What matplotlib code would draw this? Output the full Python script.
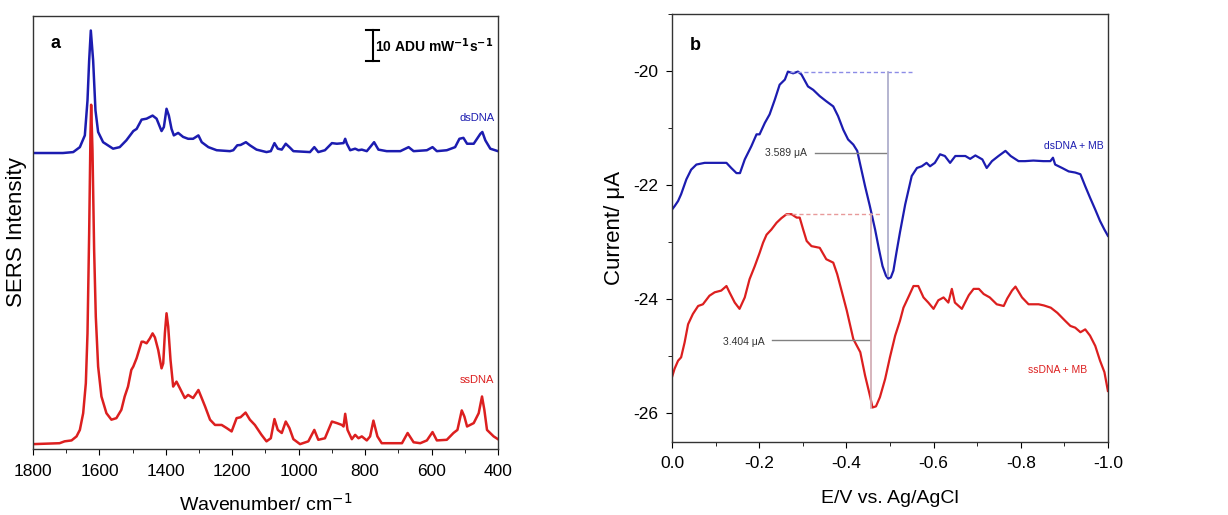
import matplotlib
matplotlib.use("Agg")
import matplotlib.pyplot as plt
from matplotlib.ticker import MultipleLocator

plt.rcParams["font.family"] = ["Liberation Sans", "DejaVu Sans"]

# ---- panel a: SERS spectra (wavenumber in cm-1, intensity in ADU mW-1 s-1, offset) ----
ds_wn = [1800, 1710, 1679, 1659, 1644, 1636, 1631, 1626, 1619, 1612, 1604, 1589, 1559,
         1539, 1519, 1498, 1488, 1473, 1458, 1440, 1428, 1413, 1406, 1398, 1391, 1383,
         1376, 1363, 1348, 1333, 1318, 1302, 1292, 1272, 1247, 1207, 1197, 1185, 1175,
         1159, 1147, 1127, 1097, 1084, 1073, 1063, 1051, 1039, 1026, 1016, 966, 953, 941,
         921, 900, 885, 865, 860, 855, 845, 830, 820, 810, 795, 785, 773, 760, 735, 694,
         669, 654, 614, 597, 584, 554, 529, 516, 504, 493, 473, 453, 447, 438, 423, 400]
ds_int = [95.7, 95.7, 96.0, 97.6, 101.4, 112.7, 125.6, 135.3, 125.6, 109.5, 102.5, 99.2,
          97.1, 97.6, 99.8, 102.8, 103.5, 106.5, 106.8, 107.8, 106.8, 102.8, 104.1, 110.0,
          107.8, 103.5, 101.4, 102.2, 100.9, 100.3, 100.3, 101.4, 99.2, 97.6, 96.6, 96.3,
          96.6, 98.2, 98.3, 99.2, 98.2, 96.8, 96.0, 96.3, 98.9, 97.1, 96.8, 98.7, 97.4,
          96.3, 96.0, 97.6, 96.0, 96.6, 98.9, 98.7, 98.9, 100.3, 98.7, 96.6, 97.1, 96.6,
          96.8, 96.3, 97.6, 99.2, 96.8, 96.3, 96.3, 97.6, 96.3, 96.6, 97.6, 96.3, 96.6,
          97.6, 100.3, 100.6, 98.7, 98.7, 101.9, 102.5, 99.8, 97.1, 96.3]

ss_wn = [1800, 1720, 1705, 1684, 1669, 1659, 1649, 1641, 1636, 1631, 1627, 1625, 1621,
         1616, 1611, 1604, 1594, 1579, 1564, 1549, 1534, 1524, 1514, 1504, 1498, 1488,
         1473, 1468, 1458, 1448, 1440, 1433, 1423, 1413, 1408, 1403, 1398, 1393, 1386,
         1378, 1368, 1358, 1343, 1333, 1318, 1302, 1294, 1282, 1267, 1252, 1232, 1217,
         1202, 1187, 1175, 1160, 1147, 1132, 1112, 1097, 1084, 1073, 1063, 1051, 1039,
         1028, 1016, 996, 971, 953, 941, 921, 900, 885, 870, 865, 860, 853, 840, 830, 820,
         810, 795, 785, 775, 763, 750, 715, 689, 672, 654, 634, 614, 597, 584, 554, 534,
         522, 509, 501, 493, 473, 458, 448, 441, 433, 413, 400]
ss_int = [1.6, 1.9, 2.5, 2.8, 4.1, 6.2, 11.6, 21.3, 37.4, 69.7,
          101.9, 111.3, 96.6, 64.3, 42.8, 26.7, 17.0, 11.6, 9.5, 10.0,
          12.7, 17.0, 20.2, 25.6, 26.7, 29.4, 34.7, 34.7, 34.2, 35.8,
          37.4, 36.1, 32.0, 26.1, 27.7, 37.4, 43.9, 39.6, 28.8, 20.2,
          21.8, 19.7, 16.5, 17.5, 16.5, 19.1, 17.0, 13.8, 9.5, 7.8,
          7.8, 6.8, 5.7, 10.0, 10.3, 11.8, 9.5, 7.8, 4.6, 2.5,
          3.5, 9.7, 6.2, 5.2, 8.9, 6.8, 3.2, 1.6, 2.5, 6.2,
          3.0, 3.5, 8.9, 8.4, 7.8, 7.3, 11.4, 6.2, 3.2, 4.6,
          3.5, 4.1, 2.8, 4.1, 9.2, 4.1, 1.9, 1.9, 1.9, 5.2,
          2.2, 1.9, 2.8, 5.5, 2.8, 3.0, 5.2, 6.2, 12.5, 10.5,
          7.3, 8.4, 11.6, 17.0, 12.7, 6.2, 4.1, 3.2]

# ---- panel b: DPV curves (E in V vs Ag/AgCl, current in uA) ----
ds_e = [0.0, -0.006, -0.014, -0.021, -0.033, -0.044, -0.056, -0.075, -0.094, -0.125,
        -0.136, -0.148, -0.156, -0.167, -0.182, -0.194, -0.201, -0.213, -0.224, -0.236,
        -0.247, -0.259, -0.266, -0.278, -0.289, -0.297, -0.312, -0.324, -0.339, -0.354,
        -0.370, -0.381, -0.393, -0.404, -0.416, -0.425, -0.431, -0.443, -0.454, -0.466,
        -0.475, -0.483, -0.491, -0.496, -0.502, -0.508, -0.515, -0.523, -0.535, -0.550,
        -0.562, -0.573, -0.584, -0.592, -0.603, -0.615, -0.626, -0.638, -0.650, -0.661,
        -0.673, -0.684, -0.696, -0.712, -0.722, -0.734, -0.749, -0.765, -0.777, -0.795,
        -0.810, -0.829, -0.852, -0.868, -0.874, -0.879, -0.895, -0.910, -0.925, -0.937,
        -0.948, -0.959, -0.971, -0.982, -0.992, -1.0]
ds_cur = [-22.43, -22.37, -22.28, -22.16, -21.90, -21.73, -21.64, -21.61, -21.61, -21.61,
          -21.70, -21.79, -21.79, -21.55, -21.32, -21.11, -21.11, -20.91, -20.76, -20.50,
          -20.24, -20.15, -20.01, -20.04, -20.01, -20.06, -20.27, -20.33, -20.44, -20.53,
          -20.62, -20.79, -21.03, -21.20, -21.29, -21.40, -21.61, -22.02, -22.37, -22.78,
          -23.13, -23.42, -23.59, -23.64, -23.62, -23.50, -23.18, -22.83, -22.34, -21.84,
          -21.70, -21.67, -21.61, -21.67, -21.61, -21.46, -21.49, -21.61, -21.49, -21.49,
          -21.49, -21.54, -21.48, -21.55, -21.70, -21.58, -21.49, -21.40, -21.49, -21.58,
          -21.58, -21.57, -21.58, -21.58, -21.52, -21.64, -21.70, -21.76, -21.78, -21.81,
          -22.02, -22.22, -22.43, -22.63, -22.78, -22.89]

ss_e = [0.0, -0.006, -0.014, -0.021, -0.029, -0.037, -0.048, -0.060, -0.071, -0.086,
        -0.098, -0.113, -0.125, -0.132, -0.144, -0.155, -0.167, -0.178, -0.190, -0.201,
        -0.209, -0.217, -0.228, -0.240, -0.251, -0.263, -0.274, -0.286, -0.293, -0.301,
        -0.309, -0.320, -0.339, -0.354, -0.370, -0.379, -0.389, -0.401, -0.416, -0.432,
        -0.443, -0.455, -0.460, -0.468, -0.477, -0.489, -0.500, -0.512, -0.523, -0.531,
        -0.542, -0.554, -0.565, -0.577, -0.588, -0.600, -0.611, -0.623, -0.634, -0.642,
        -0.649, -0.665, -0.681, -0.692, -0.704, -0.715, -0.729, -0.745, -0.761, -0.769,
        -0.780, -0.788, -0.803, -0.818, -0.829, -0.841, -0.853, -0.869, -0.884, -0.902,
        -0.914, -0.925, -0.937, -0.948, -0.959, -0.971, -0.982, -0.992, -1.0]
ss_cur = [-25.37, -25.22, -25.08, -25.02, -24.76, -24.44, -24.26, -24.12, -24.09, -23.94,
          -23.88, -23.85, -23.77, -23.88, -24.06, -24.17, -23.97, -23.65, -23.42, -23.19,
          -23.01, -22.87, -22.78, -22.66, -22.58, -22.51, -22.51, -22.57, -22.57, -22.78,
          -22.98, -23.07, -23.10, -23.30, -23.36, -23.56, -23.85, -24.20, -24.70, -24.93,
          -25.34, -25.72, -25.90, -25.88, -25.72, -25.40, -25.02, -24.64, -24.38, -24.15,
          -23.97, -23.77, -23.77, -23.97, -24.06, -24.17, -24.02, -23.97, -24.06, -23.82,
          -24.06, -24.17, -23.93, -23.82, -23.82, -23.91, -23.97, -24.09, -24.12, -23.99,
          -23.85, -23.78, -23.97, -24.09, -24.09, -24.09, -24.11, -24.15, -24.24, -24.38,
          -24.47, -24.50, -24.58, -24.53, -24.64, -24.82, -25.08, -25.28, -25.61]

ds_gap = 3.589
ss_gap = 3.404

BLUE = "#1c1cb0"
RED = "#dc1f1f"

fig = plt.figure(figsize=(12.28, 5.15), dpi=100)

# ---------------- panel a ----------------
ax1 = fig.add_axes([0.0269, 0.128, 0.3786, 0.841])
ax1.plot(ds_wn, ds_int, color=BLUE, lw=1.8)
ax1.plot(ss_wn, ss_int, color=RED, lw=1.8)
ax1.set_xlim(1800, 400)
ax1.set_ylim(0, 140)
ax1.set_yticks([])
ax1.xaxis.set_major_locator(MultipleLocator(200))
ax1.xaxis.set_minor_locator(MultipleLocator(100))
ax1.tick_params(axis="x", which="major", direction="out", length=4, labelsize=12.5, pad=7)
ax1.tick_params(axis="x", which="minor", direction="out", length=3)
ax1.set_xlabel("Wavenumber/ cm$^{-1}$", fontsize=14, labelpad=10)
ax1.set_ylabel("SERS Intensity", fontsize=16, labelpad=4)
ax1.text(0.038, 0.937, "a", transform=ax1.transAxes, fontsize=13, fontweight="bold",
         ha="left", va="center")
ax1.text(410, 107.1, "dsDNA", color=BLUE, fontsize=8, ha="right", va="center")
ax1.text(413, 22.4, "ssDNA", color=RED, fontsize=8, ha="right", va="center")

# scale bar: 10 ADU mW-1 s-1
bar_x = 777
bar_lo, bar_hi = 125.5, 135.5
ax1.plot([bar_x, bar_x], [bar_lo, bar_hi], color="black", lw=1.5)
ax1.plot([bar_x + 20, bar_x - 20], [bar_lo, bar_lo], color="black", lw=1.5)
ax1.plot([bar_x + 20, bar_x - 20], [bar_hi, bar_hi], color="black", lw=1.5)
ax1.text(bar_x - 8, (bar_lo + bar_hi) / 2, "10 ADU mW$^{\\mathbf{-1}}$s$^{\\mathbf{-1}}$",
         fontsize=10, fontweight="bold", ha="left", va="center")

# ---------------- panel b ----------------
ax2 = fig.add_axes([0.5472, 0.1423, 0.355, 0.8305])
ax2.plot(ds_e, ds_cur, color=BLUE, lw=1.6)
ax2.plot(ss_e, ss_cur, color=RED, lw=1.6)
ax2.set_xlim(0.0, -1.0)
ax2.set_ylim(-26.5, -19.0)
ax2.xaxis.set_major_locator(MultipleLocator(0.2))
ax2.xaxis.set_minor_locator(MultipleLocator(0.1))
ax2.yaxis.set_major_locator(MultipleLocator(2))
ax2.yaxis.set_minor_locator(MultipleLocator(1))
ax2.xaxis.set_major_formatter(plt.FuncFormatter(lambda v, p: f"{v:.1f}"))
ax2.yaxis.set_major_formatter(plt.FuncFormatter(lambda v, p: f"{v:.0f}"))
ax2.tick_params(which="major", direction="out", length=4, labelsize=12.5, pad=6)
ax2.tick_params(which="minor", direction="out", length=3)
ax2.set_xlabel("E/V vs. Ag/AgCl", fontsize=14, labelpad=14)
ax2.set_ylabel("Current/ \u03bcA", fontsize=16, labelpad=6)
ax2.text(0.041, 0.927, "b", transform=ax2.transAxes, fontsize=13, fontweight="bold",
         ha="left", va="center")

# peak height markers
ds_top = max(ds_cur)
ds_bot = min(ds_cur)
ds_emin = ds_e[ds_cur.index(ds_bot)]
ss_top = max(ss_cur)
ss_bot = min(ss_cur)
ss_emin = ss_e[ss_cur.index(ss_bot)]

ax2.plot([-0.27, -0.55], [ds_top, ds_top], color="#8c8ce6", lw=1, ls=(0, (3, 2)))
ax2.plot([ds_emin, ds_emin], [ds_top, ds_top - ds_gap], color="#a8a8c8", lw=1.2)
ax2.plot([-0.26, -0.477], [ss_top, ss_top], color="#e89a9a", lw=1, ls=(0, (3, 2)))
ax2.plot([ss_emin + 0.004, ss_emin + 0.004], [ss_top, ss_top - ss_gap], color="#d0a8b0", lw=1.2)

ax2.plot([-0.328, ds_emin + 0.006], [-21.43, -21.43], color="#808080", lw=1)
ax2.text(-0.31, -21.43, f"{ds_gap:.3f} \u03bcA", fontsize=7.5, color="#333333",
         ha="right", va="center")
ax2.plot([-0.229, ss_emin + 0.008], [-24.71, -24.71], color="#808080", lw=1)
ax2.text(-0.213, -24.75, f"{ss_gap:.3f} \u03bcA", fontsize=7.5, color="#333333",
         ha="right", va="center")

ax2.text(-0.99, -21.31, "dsDNA + MB", color=BLUE, fontsize=7.5, ha="right", va="center")
ax2.text(-0.953, -25.24, "ssDNA + MB", color=RED, fontsize=7.5, ha="right", va="center")

for ax in (ax1, ax2):
    for s in ax.spines.values():
        s.set_color("#333333")
        s.set_linewidth(1.0)

fig.savefig("out.png", dpi=100)
